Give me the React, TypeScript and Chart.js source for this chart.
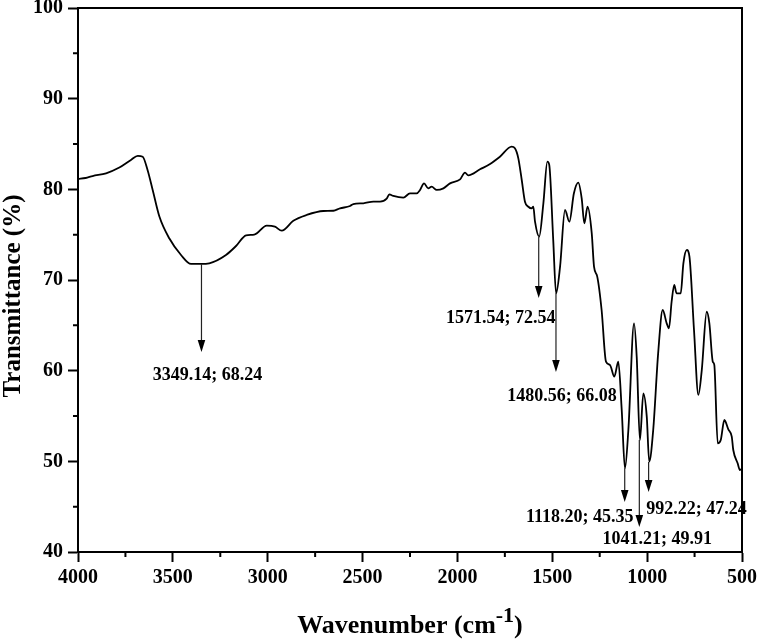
import React, { useEffect, useRef } from 'react';
import { Chart, registerables } from 'chart.js';

Chart.register(...registerables);

// Spectrum (wavenumber in cm-1, transmittance in %)
const wavenumbers = [
  4000, 3960, 3923, 3852, 3782, 3721, 3685, 3659, 3633, 3606, 3571, 3519, 3457, 3404, 3352, 3308,
  3220, 3167, 3114, 3071, 3005, 2962, 2926, 2865, 2795, 2707, 2654, 2619, 2566, 2549, 2496, 2443,
  2408, 2373, 2359, 2338, 2285, 2250, 2215, 2197, 2176, 2154, 2136, 2109, 2074, 2039, 1986, 1960,
  1943, 1881, 1828, 1776, 1714, 1697, 1679, 1661, 1644, 1626, 1609, 1600, 1591, 1569, 1547, 1526,
  1516, 1495, 1480, 1459, 1433, 1410, 1386, 1363, 1345, 1331, 1314, 1292, 1280, 1263, 1240, 1217,
  1196, 1173, 1152, 1134, 1117, 1099, 1069, 1055, 1038, 1020, 1002, 989, 968, 942, 918, 897,
  885, 871, 857, 845, 823, 809, 791, 777, 753, 730, 712, 686, 672, 654, 646, 628,
  612, 593, 572, 554, 546, 523, 511, 500,
];
const transmittance = [
  81.14, 81.25, 81.47, 81.77, 82.4, 83.24, 83.7, 83.6, 82.1, 79.9, 77.0, 74.6, 72.76, 71.77, 71.77, 71.84,
  72.76, 73.75, 74.93, 75.0, 75.99, 75.88, 75.44, 76.54, 77.17, 77.61, 77.64, 77.9, 78.16, 78.38, 78.46, 78.64,
  78.64, 78.97, 79.45, 79.27, 79.08, 79.56, 79.56, 79.93, 80.66, 80.11, 80.29, 79.93, 80.11, 80.66, 81.1, 81.84,
  81.55, 82.21, 82.8, 83.6, 84.7, 84.53, 83.42, 81.03, 78.64, 78.08, 77.9, 78.08, 76.43, 74.78, 78.46, 83.05,
  82.7, 74.4, 68.53, 71.47, 77.72, 76.43, 79.56, 80.73, 79.0, 76.25, 78.08, 75.15, 71.47, 70.37, 66.69, 60.99,
  60.63, 59.34, 60.99, 55.66, 49.23, 53.46, 65.22, 61.54, 52.35, 57.5, 54.93, 49.96, 53.46, 61.91, 66.69, 65.22,
  64.67, 67.6, 69.45, 68.53, 68.53, 71.84, 73.31, 72.57, 64.49, 57.32, 60.07, 66.5, 65.22, 60.99, 60.63, 51.99,
  52.35, 54.56, 53.53, 52.72, 51.25, 49.78, 49.04, 49.2,
];

const xTicks = [4000, 3500, 3000, 2500, 2000, 1500, 1000, 500];
const xMinorTicks = [3750, 3250, 2750, 2250, 1750, 1250, 750];
const yTicks = [40, 50, 60, 70, 80, 90, 100];
const yMinorTicks = [45, 55, 65, 75, 85, 95];

// Peak annotations
const peakWn = [3349.14, 1571.54, 1480.56, 1118.2, 1041.21, 992.22];
const peakStartT = [71.77, 74.78, 68.53, 49.23, 52.35, 49.93];
const peakTipT = [62.06, 68.02, 59.85, 45.52, 42.76, 46.62];
const peakLabels = [
  '3349.14; 68.24',
  '1571.54; 72.54',
  '1480.56; 66.08',
  '1118.20; 45.35',
  '1041.21; 49.91',
  '992.22; 47.24',
];

// Layout: label offsets (px) relative to arrow tip
const LABEL_OFFSETS: [number, number][] = [
  [6, 23], [-38, 20], [6, 24], [-45, 15], [18, 12], [48, 17.5],
];

const FONT = '"Liberation Serif", "Times New Roman", serif';

const decorPlugin = {
  id: 'decor',
  afterDraw(chart: any) {
    const ctx: CanvasRenderingContext2D = chart.ctx;
    const xs = chart.scales.x;
    const ys = chart.scales.y;
    const { left, right, top, bottom } = chart.chartArea;
    ctx.save();
    // top & right frame
    ctx.strokeStyle = '#000';
    ctx.lineWidth = 2;
    ctx.beginPath();
    ctx.moveTo(left - 1, top);
    ctx.lineTo(right, top);
    ctx.lineTo(right, bottom + 1);
    ctx.stroke();
    // minor ticks
    ctx.beginPath();
    xMinorTicks.forEach((v) => {
      const px = xs.getPixelForValue(v);
      ctx.moveTo(px, bottom);
      ctx.lineTo(px, bottom + 5);
    });
    yMinorTicks.forEach((v) => {
      const py = ys.getPixelForValue(v);
      ctx.moveTo(left, py);
      ctx.lineTo(left - 5, py);
    });
    ctx.stroke();

    // arrows + labels
    peakWn.forEach((wn, i) => {
      const px = xs.getPixelForValue(wn);
      const y0 = ys.getPixelForValue(peakStartT[i]);
      const y1 = ys.getPixelForValue(peakTipT[i]);
      ctx.strokeStyle = '#222';
      ctx.lineWidth = 1.2;
      ctx.beginPath();
      ctx.moveTo(px, y0);
      ctx.lineTo(px, y1 - 10);
      ctx.stroke();
      ctx.fillStyle = '#000';
      ctx.beginPath();
      ctx.moveTo(px, y1);
      ctx.lineTo(px - 3.8, y1 - 12);
      ctx.lineTo(px + 3.8, y1 - 12);
      ctx.closePath();
      ctx.fill();
      const [dx, dy] = LABEL_OFFSETS[i];
      ctx.font = `bold 18px ${FONT}`;
      ctx.textAlign = 'center';
      ctx.textBaseline = 'middle';
      ctx.fillText(peakLabels[i], px + dx, y1 + dy);
    });

    // axis titles
    ctx.fillStyle = '#000';
    ctx.save();
    ctx.translate(20, (top + bottom) / 2 + 16);
    ctx.rotate(-Math.PI / 2);
    ctx.font = `bold 25px ${FONT}`;
    ctx.textAlign = 'center';
    ctx.textBaseline = 'alphabetic';
    ctx.fillText('Transmittance (%)', 0, 0);
    ctx.restore();

    const mainFont = `bold 26px ${FONT}`;
    const supFont = `bold 22px ${FONT}`;
    const t1 = 'Wavenumber (cm';
    const t2 = '-1';
    const t3 = ')';
    ctx.font = mainFont;
    const w1 = ctx.measureText(t1).width;
    const w3 = ctx.measureText(t3).width;
    ctx.font = supFont;
    const w2 = ctx.measureText(t2).width;
    const total = w1 + w2 + w3;
    let x = (left + right) / 2 - total / 2;
    const base = 633;
    ctx.textAlign = 'left';
    ctx.textBaseline = 'alphabetic';
    ctx.font = mainFont;
    ctx.fillText(t1, x, base);
    x += w1;
    ctx.font = supFont;
    ctx.fillText(t2, x, base - 11);
    x += w2;
    ctx.font = mainFont;
    ctx.fillText(t3, x, base);
    ctx.restore();
  },
};

export default function App() {
  const ref = useRef<HTMLCanvasElement | null>(null);
  useEffect(() => {
    if (!ref.current) return;
    const chart = new Chart(ref.current, {
      type: 'line',
      data: {
        datasets: [
          {
            data: wavenumbers.map((w, i) => ({ x: w, y: transmittance[i] })),
            borderColor: '#000',
            borderWidth: 1.8,
            pointRadius: 0,
            fill: false,
            cubicInterpolationMode: 'monotone',
          },
        ],
      },
      options: {
        responsive: false,
        animation: false,
        devicePixelRatio: 1,
        layout: { padding: { left: 0, right: 15, top: 8, bottom: 0 } },
        plugins: { legend: { display: false }, tooltip: { enabled: false } },
        scales: {
          x: {
            type: 'linear',
            min: 500,
            max: 4000,
            reverse: true,
            afterBuildTicks: (s: any) => {
              s.ticks = xTicks.map((v) => ({ value: v }));
            },
            afterFit: (s: any) => {
              s.height = 87;
              s.paddingLeft = 0;
              s.paddingRight = 0;
            },
            ticks: {
              color: '#000',
              font: { family: FONT, size: 20, weight: 'bold' },
              padding: 4,
              maxRotation: 0,
              autoSkip: false,
              callback: (v: any) => String(v),
            },
            grid: {
              display: true,
              drawOnChartArea: false,
              drawTicks: true,
              tickLength: 10,
              tickWidth: 2,
              tickColor: '#000',
            },
            border: { display: true, color: '#000', width: 2 },
          },
          y: {
            type: 'linear',
            min: 40,
            max: 100,
            afterBuildTicks: (s: any) => {
              s.ticks = yTicks.map((v) => ({ value: v }));
            },
            afterFit: (s: any) => {
              s.width = 78;
              s.paddingTop = 0;
              s.paddingBottom = 0;
            },
            ticks: {
              color: '#000',
              font: { family: FONT, size: 20, weight: 'bold' },
              padding: 5,
              autoSkip: false,
              callback: (v: any) => String(v),
            },
            grid: {
              display: true,
              drawOnChartArea: false,
              drawTicks: true,
              tickLength: 10,
              tickWidth: 2,
              tickColor: '#000',
            },
            border: { display: true, color: '#000', width: 2 },
          },
        },
      },
      plugins: [decorPlugin],
    } as any);
    return () => chart.destroy();
  }, []);
  return (
    <div style={{ position: 'absolute', left: 0, top: 0, width: 757, height: 639, background: '#fff' }}>
      <canvas ref={ref} width={757} height={639} style={{ display: 'block' }} />
    </div>
  );
}
